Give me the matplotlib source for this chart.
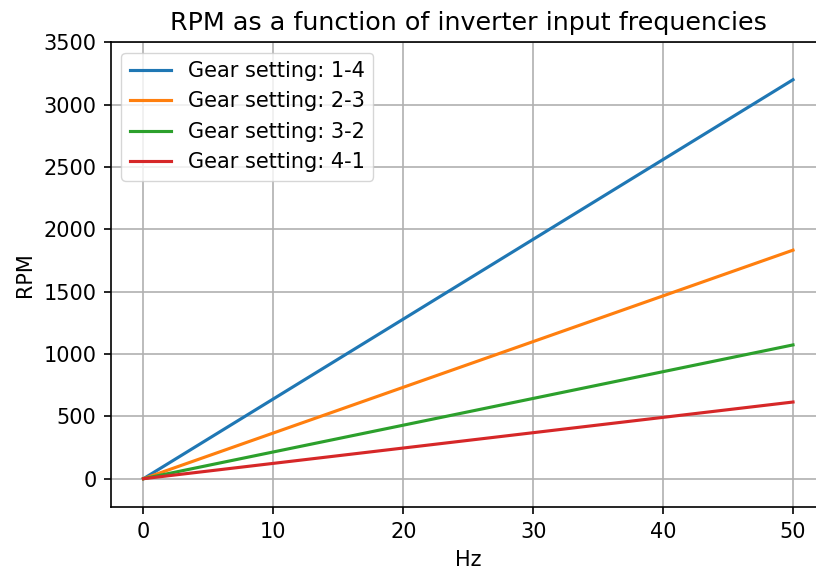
import matplotlib
matplotlib.use("Agg")
import matplotlib.pyplot as plt

hz = [0, 50]
rpm_1_4 = [0, 3200]
rpm_2_3 = [0, 1833]
rpm_3_2 = [0, 1073]
rpm_4_1 = [0, 615]
labels = ["Gear setting: 1-4", "Gear setting: 2-3", "Gear setting: 3-2", "Gear setting: 4-1"]

s = 1.5
plt.rcParams.update({
    "font.size": 10 * s,
    "axes.linewidth": 0.8 * s,
    "xtick.major.width": 0.8 * s,
    "ytick.major.width": 0.8 * s,
    "xtick.major.size": 3.5 * s,
    "ytick.major.size": 3.5 * s,
    "xtick.major.pad": 3.5 * s,
    "ytick.major.pad": 3.5 * s,
    "grid.linewidth": 0.8 * s,
    "axes.titlepad": 6 * s,
    "axes.labelpad": 4 * s,
})

fig = plt.figure(figsize=(8.16, 5.71), dpi=100)
ax = fig.add_axes([111 / 816, 1 - 507 / 571, (825.5 - 111) / 816, (507 - 42.3) / 571])
for y, lab in zip([rpm_1_4, rpm_2_3, rpm_3_2, rpm_4_1], labels):
    ax.plot(hz, y, label=lab, linewidth=1.5 * s)
ax.set_xlim(-2.5, 52.5)
ax.set_ylim(-227, 3500)
ax.set_yticks(range(0, 3501, 500))
ax.grid(True)
ax.set_title("RPM as a function of inverter input frequencies", fontsize=12.2 * s)
ax.set_xlabel("Hz")
ax.set_ylabel("RPM")
ax.legend(loc="upper left")
fig.savefig("out.png", dpi=100)
